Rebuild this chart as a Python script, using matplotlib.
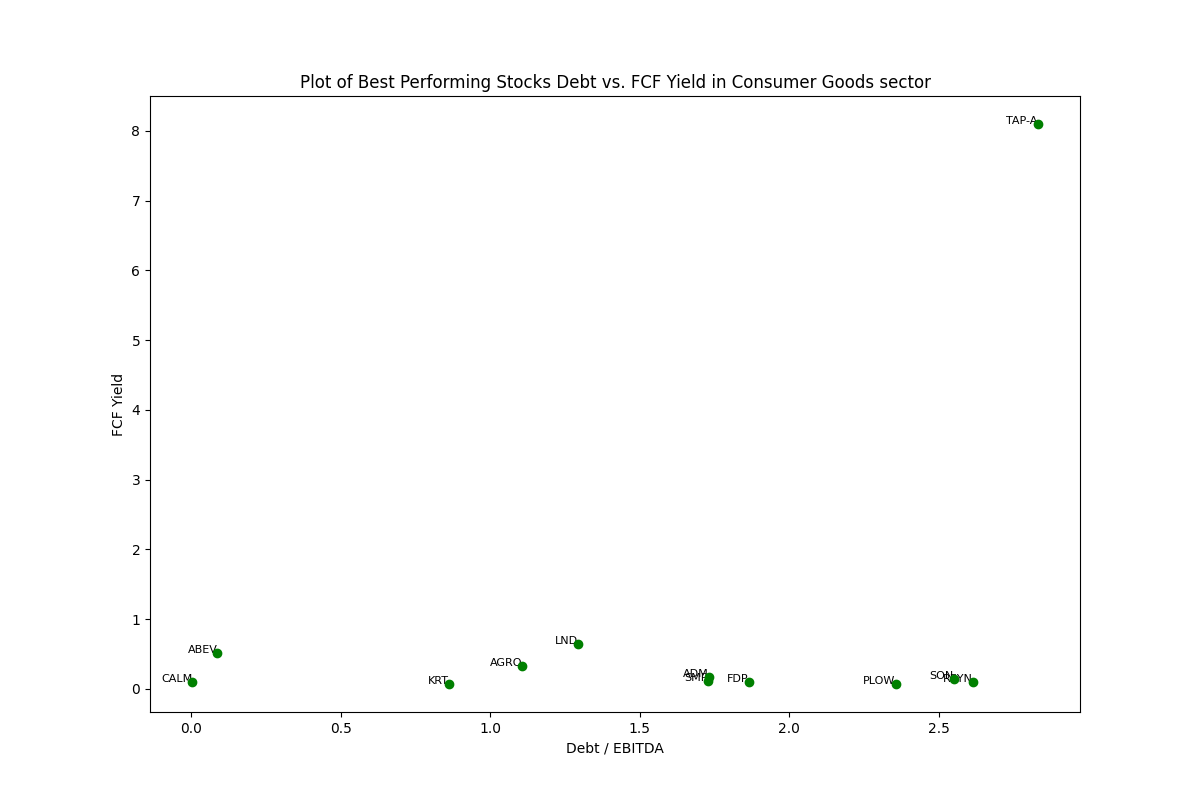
import matplotlib
matplotlib.use('Agg')
import matplotlib.pyplot as plt

tickers = ['CALM', 'ABEV', 'KRT', 'AGRO', 'LND', 'ADM', 'SMP', 'FDP',
           'PLOW', 'SON', 'REYN', 'TAP-A']
debt_ebitda = [0.003, 0.087, 0.862, 1.106, 1.293, 1.731, 1.728, 1.865,
               2.356, 2.550, 2.614, 2.831]
fcf_yield = [0.10, 0.52, 0.07, 0.33, 0.645, 0.17, 0.115, 0.10,
             0.07, 0.14, 0.10, 8.10]

fig, ax = plt.subplots(figsize=(12, 8))
for name, x, y in zip(tickers, debt_ebitda, fcf_yield):
    ax.text(x, y, name, fontsize=8, ha='right')
ax.scatter(debt_ebitda, fcf_yield, color='green', zorder=4)

ax.set_title('Plot of Best Performing Stocks Debt vs. FCF Yield in Consumer Goods sector')
ax.set_xlabel('Debt / EBITDA')
ax.set_ylabel('FCF Yield')

plt.savefig('out.png', dpi=100)
plt.close()
